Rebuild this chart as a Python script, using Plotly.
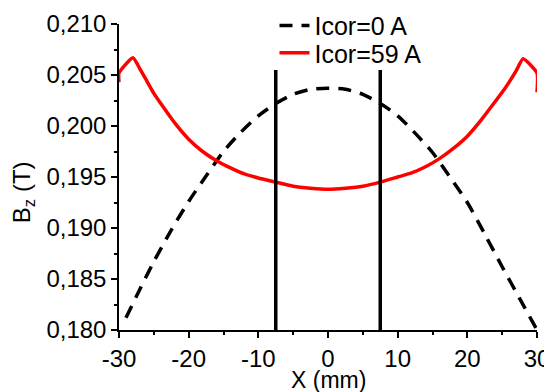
import plotly.graph_objects as go

# Icor = 0 A (dashed black)
x_dash = [-29.0, -27.0, -25.0, -22.5, -20.0, -17.5, -15.0, -12.5, -10.0, -7.5, -5.0, -2.5,
          0.0, 2.5, 5.0, 7.5, 10.0, 12.5, 15.0, 17.5, 20.0, 22.5, 25.0, 27.5, 30.0]
y_dash = [0.1812, 0.1840, 0.1867, 0.1898, 0.1926, 0.1951, 0.1975, 0.1994, 0.2010, 0.2022, 0.2031, 0.2036,
          0.2037, 0.2036, 0.2031, 0.2022, 0.2010, 0.1993, 0.1974, 0.1950, 0.1925, 0.1894, 0.1862, 0.1831, 0.1800]

# Icor = 59 A (red)
x_red = [-30.0, -30.0, -28.0, -27.0, -26.0, -25.0, -24.0, -22.0, -20.0, -18.0, -16.0, -14.0, -12.0, -10.0,
         -7.5, -5.0, -2.5, 0.0, 2.5, 5.0, 7.5, 10.0, 12.0, 14.0, 16.0, 18.0, 20.0, 22.0, 24.0, 25.0,
         26.0, 27.0, 28.0, 30.0, 30.0]
y_red = [0.2043, 0.2052, 0.2067, 0.2056, 0.2044, 0.2032, 0.2022, 0.2003, 0.1987, 0.1975, 0.1966, 0.1959,
         0.1953, 0.1949, 0.1945, 0.1941, 0.1939, 0.1938, 0.1939, 0.1941, 0.1945, 0.1950, 0.1954, 0.1960,
         0.1968, 0.1978, 0.1990, 0.2006, 0.2024, 0.2033, 0.2043, 0.2054, 0.2066, 0.2052, 0.2033]

# vertical markers
vline_x = [-7.5, 7.5]
vline_bottom = 0.180
vline_top = 0.2055

x_ticks = [-30, -20, -10, 0, 10, 20, 30]
x_ticklabels = ["-30", "-20", "-10", "0", "10", "20", "30"]
x_minor = [-25, -15, -5, 5, 15, 25]

FONT = "Liberation Sans, Arial, sans-serif"
TICK_SIZE = 24

fig = go.Figure()
fig.add_trace(go.Scatter(x=x_dash, y=y_dash, mode="lines", name="Icor=0 A", legend="legend",
                         line=dict(color="black", width=3.5, dash="13px,9px",
                                   shape="spline", smoothing=0.8)))
fig.add_trace(go.Scatter(x=x_red, y=y_red, mode="lines", name="Icor=59 A", legend="legend2",
                         line=dict(color="#ff0000", width=3.5, shape="spline", smoothing=0.5)))
for xv in vline_x:
    fig.add_trace(go.Scatter(x=[xv, xv], y=[vline_bottom, vline_top], mode="lines",
                             showlegend=False, line=dict(color="black", width=3.5)))

leg_common = dict(xanchor="left", yanchor="middle", bgcolor="rgba(0,0,0,0)", borderwidth=0,
                  font=dict(family=FONT, size=25, color="black"))

# page body has an 8px default margin, so the figure is 8px smaller and margins compensate
fig.update_layout(
    width=544, height=384,
    margin=dict(l=111, r=15, t=16, b=62, autoexpand=False),
    paper_bgcolor="white", plot_bgcolor="white",
    separators=",.",
    font=dict(family=FONT, color="black", size=TICK_SIZE),
    showlegend=True,
    legend=dict(x=0.372, y=0.994, **leg_common),
    legend2=dict(x=0.372, y=0.905, **leg_common),
    xaxis=dict(range=[-30, 30], tickmode="array", tickvals=x_ticks, ticktext=x_ticklabels,
               ticks="outside", ticklen=6, tickwidth=1.5, tickcolor="black",
               showline=True, linecolor="black", linewidth=1.5,
               showgrid=False, zeroline=False, automargin=False,
               tickfont=dict(family=FONT, size=TICK_SIZE, color="black"),
               minor=dict(tickmode="array", tickvals=x_minor, ticks="outside",
                          ticklen=3, tickwidth=1.5, tickcolor="black", showgrid=False)),
    yaxis=dict(range=[0.180, 0.210], dtick=0.005, tick0=0.180, tickformat=".3f",
               ticks="outside", ticklen=6, tickwidth=1.5, tickcolor="black",
               showline=True, linecolor="black", linewidth=1.5,
               showgrid=False, zeroline=False, automargin=False,
               tickfont=dict(family=FONT, size=TICK_SIZE, color="black"),
               minor=dict(dtick=0.0025, tick0=0.180, ticks="outside",
                          ticklen=3, tickwidth=1.5, tickcolor="black", showgrid=False)),
    annotations=[
        dict(text="B<sub>z</sub> (T)", textangle=-90, x=-0.23, y=0.45,
             xref="paper", yref="paper", xanchor="center", yanchor="middle",
             showarrow=False, font=dict(family=FONT, size=24, color="black")),
        dict(text="X (mm)", x=0.5, y=-0.162,
             xref="paper", yref="paper", xanchor="center", yanchor="middle",
             showarrow=False, font=dict(family=FONT, size=23, color="black")),
    ],
)

fig.write_html("out.html")
